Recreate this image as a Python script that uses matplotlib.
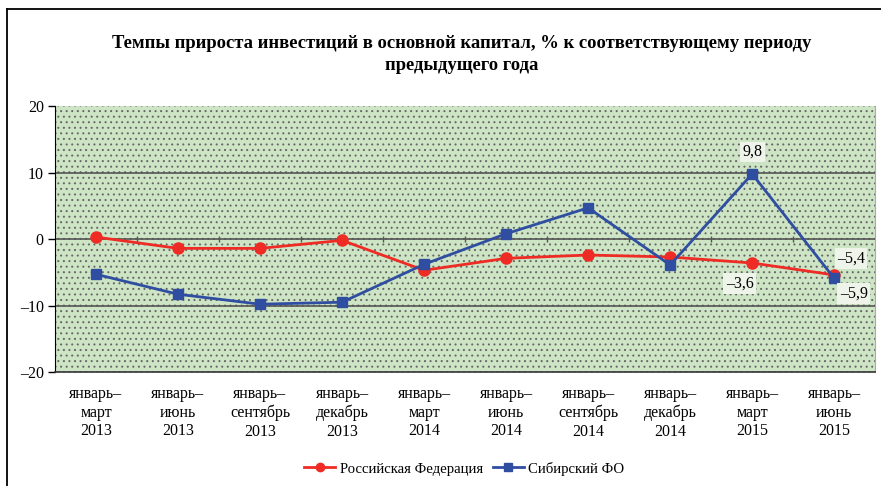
import matplotlib.pyplot as plt
from matplotlib.lines import Line2D
from matplotlib.patches import Rectangle

plt.rcParams['font.family'] = ['Liberation Serif', 'DejaVu Serif']
plt.rcParams['hatch.linewidth'] = 0.7

# data
periods = ['январь–\nмарт\n2013', 'январь–\nиюнь\n2013', 'январь–\nсентябрь\n2013',
           'январь–\nдекабрь\n2013', 'январь–\nмарт\n2014', 'январь–\nиюнь\n2014',
           'январь–\nсентябрь\n2014', 'январь–\nдекабрь\n2014', 'январь–\nмарт\n2015',
           'январь–\nиюнь\n2015']
russia = [0.3, -1.4, -1.4, -0.2, -4.7, -2.9, -2.4, -2.7, -3.6, -5.4]
siberia = [-5.3, -8.3, -9.8, -9.5, -3.8, 0.8, 4.7, -3.9, 9.8, -5.9]
yticks = [-20, -10, 0, 10, 20]
ytick_labels = ['–20', '–10', '0', '10', '20']

red = '#ee2b24'
blue = '#2f4ea1'

fig = plt.figure(figsize=(8.81, 4.86), dpi=100)
ax = fig.add_axes([0.0624, 0.2346, 0.931, 0.547])

x = list(range(len(periods)))
ax.set_xlim(-0.5, len(periods) - 0.5)
ax.set_ylim(-20, 20)

ax.set_facecolor('#cde5c4')
# dotted texture over the plot area
ax.add_patch(Rectangle((0, 0), 1, 1, transform=ax.transAxes, facecolor='none',
                       edgecolor='#666666', hatch='...', lw=0, zorder=0.5))

for v in [-10, 0, 10]:
    ax.axhline(v, color='#555555', lw=1.2, zorder=1)
# small tick marks on the zero line between categories
ax.plot([i + 0.5 for i in x[:-1]], [0] * (len(x) - 1), ls='none', marker='|',
        ms=4, color='#555555', zorder=1)

ax.plot(x, russia, color=red, lw=2, marker='o', ms=8, zorder=3)
ax.plot(x, siberia, color=blue, lw=2, marker='s', ms=6.5, zorder=3)

box = dict(boxstyle='square,pad=0.15', fc='#eef4ea', ec='none')
ax.annotate('9,8', (8, siberia[8]), xytext=(0, 10), textcoords='offset points',
            ha='center', va='bottom', fontsize=11.5, bbox=box)
ax.annotate('–3,6', (8, russia[8]), xytext=(-9, -9), textcoords='offset points',
            ha='center', va='top', fontsize=11.5, bbox=box)
ax.annotate('–5,4', (9, russia[9]), xytext=(2, 6), textcoords='offset points',
            ha='left', va='bottom', fontsize=11.5, bbox=box)
ax.annotate('–5,9', (9, siberia[9]), xytext=(4, -5), textcoords='offset points',
            ha='left', va='top', fontsize=11.5, bbox=box)

ax.set_xticks(x)
ax.set_xticklabels(periods, fontsize=11.5, linespacing=1.22)
ax.tick_params(axis='x', length=0, pad=10)
ax.set_yticks(yticks)
ax.set_yticklabels(ytick_labels, fontsize=11.5)
ax.tick_params(axis='y', length=5, width=1, direction='out', pad=3)

ax.spines['left'].set_color('black')
ax.spines['bottom'].set_color('#333333')
ax.spines['bottom'].set_linewidth(1.2)
ax.spines['top'].set_visible(False)
ax.spines['right'].set_color('#aaaaaa')

fig.text(0.524, 0.888, 'Темпы прироста инвестиций в основной капитал, % к соответствующему периоду\nпредыдущего года',
         ha='center', va='center', fontsize=13.4, fontweight='bold', linespacing=1.4)

handles = [Line2D([], [], color=red, lw=2, marker='o', ms=6),
           Line2D([], [], color=blue, lw=2, marker='s', ms=5.5)]
fig.legend(handles, ['Российская Федерация', 'Сибирский ФО'], loc='center',
           bbox_to_anchor=(0.527, 0.036), ncol=2, frameon=False, fontsize=10.6,
           handlelength=2.1, columnspacing=0.7, handletextpad=0.3)

# frame around the figure (left and top edges visible)
fig.add_artist(Line2D([7 / 881, 7 / 881], [0, 1 - 9 / 486], color='black', lw=1.3))
fig.add_artist(Line2D([7 / 881, 1], [1 - 9 / 486, 1 - 9 / 486], color='black', lw=1.3))

fig.savefig('out.png', dpi=100)
